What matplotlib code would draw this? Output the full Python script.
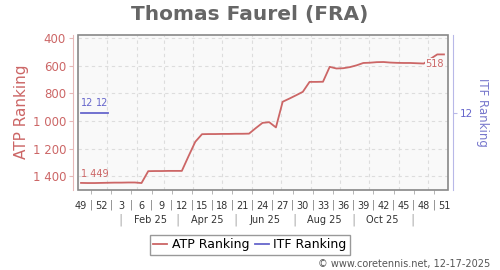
import datetime
import matplotlib
matplotlib.use("Agg")
from matplotlib import pyplot as plt
from matplotlib import transforms
from matplotlib.patches import Rectangle
from matplotlib.ticker import FuncFormatter

title = "Thomas Faurel (FRA)"

# ranking weeks as (iso year, iso week)
atp_weeks = [(2024, w) for w in range(49, 53)] + [(2025, w) for w in range(1, 52)]
atp_rank = [1449, 1450, 1450, 1449, 1448, 1447, 1447, 1446, 1446, 1450,
            1364, 1363, 1363, 1362, 1362, 1362, 1255, 1151, 1096, 1095,
            1095, 1094, 1094, 1093, 1093, 1092, 1052, 1014, 1009, 1047,
            861, 838, 814, 789, 717, 717, 716, 608, 620, 618,
            610, 597, 580, 578, 574, 573, 577, 579, 580, 580,
            582, 584, 550, 518, 518]

itf_weeks = [(2024, 49), (2024, 50), (2024, 51), (2024, 52), (2025, 1)]
itf_rank = [12, 12, 12, 12, 12]

week_ticks = [(2024, 49), (2024, 52)] + [(2025, w) for w in range(3, 52, 3)]
month_names = ["Feb 25", "Apr 25", "Jun 25", "Aug 25", "Oct 25"]
month_label_days = [datetime.date(2025, m, 15) for m in (2, 4, 6, 8, 10)]
month_sep_days = [datetime.date(2025, m, 15) for m in (1, 3, 5, 7, 9, 11)]
grid_days = [datetime.date(2025, m, 1) for m in range(1, 13)]

atp_color = "#cc6666"
itf_color = "#6666cc"

origin = datetime.date.fromisocalendar(2024, 49, 4)


def date_x(d):
    return (d - origin).days / 7


def week_x(yw):
    return date_x(datetime.date.fromisocalendar(yw[0], yw[1], 4))


def thousands(v, pos):
    return f"{int(v):,}".replace(",", " ")


fig = plt.figure(figsize=(5, 2.7), dpi=100)
ax = fig.add_axes([0.156, 0.296, 0.74, 0.574])
ax.set_facecolor("#f9f9f9")

xa = [week_x(w) for w in atp_weeks]
xi = [week_x(w) for w in itf_weeks]

atp_line, = ax.plot(xa, atp_rank, color=atp_color, lw=1.3, label="ATP Ranking", zorder=3)
ax.set_xlim(-0.45, 54.6)
ax.set_ylim(1501, 378)
ax.set_yticks([400, 600, 800, 1000, 1200, 1400])
ax.yaxis.set_major_formatter(FuncFormatter(thousands))
ax.grid(axis="y", linestyle=(0, (3, 3)), color="#dddddd", lw=0.8)
for d in grid_days:
    ax.axvline(date_x(d), linestyle=(0, (3, 3)), color="#dddddd", lw=0.8, zorder=1)

for s in ["top", "right", "bottom"]:
    ax.spines[s].set_visible(False)
ax.spines["left"].set_position(("outward", 3.6))
ax.spines["left"].set_color("#e6b8b8")
ax.tick_params(axis="y", labelcolor=atp_color, color="#e6b8b8", length=3,
               labelsize=8.5, pad=2)

# week ticks
wx = [week_x(w) for w in week_ticks]
ax.set_xticks(wx)
ax.set_xticklabels([str(w[1]) for w in week_ticks])
mids = [(a + b) / 2 for a, b in zip(wx[:-1], wx[1:])]
ax.set_xticks(mids, minor=True)
ax.tick_params(axis="x", which="major", length=0, pad=8, labelsize=7, labelcolor="#333333")
ax.tick_params(axis="x", which="minor", length=3, color="#aaaaaa")

tr = transforms.blended_transform_factory(ax.transData, ax.transAxes)
for m in mids:
    ax.text(m, -0.095, "|", transform=tr, ha="center", va="center",
            fontsize=7, color="#777777")
for d, name in zip(month_label_days, month_names):
    ax.text(date_x(d), -0.19, name, transform=tr, ha="center", va="center",
            fontsize=7, color="#333333")
for d in month_sep_days:
    ax.text(date_x(d), -0.19, "|", transform=tr, ha="center", va="center",
            fontsize=9, color="#aaaaaa")

ax.add_patch(Rectangle((0, 0), 1, 1, transform=ax.transAxes, fill=False,
                       edgecolor="#888888", lw=1.2, clip_on=False, zorder=5))

# data labels for the atp line
ax.annotate(thousands(atp_rank[0], 0), (xa[0], atp_rank[0]), xytext=(0, 3),
            textcoords="offset points", ha="left", va="bottom",
            fontsize=7, color=atp_color)
ax.annotate(thousands(atp_rank[-1], 0), (xa[-1], atp_rank[-1]), xytext=(0, -3),
            textcoords="offset points", ha="right", va="top",
            fontsize=7, color=atp_color, zorder=4,
            bbox=dict(facecolor="#f9f9f9", edgecolor="none", pad=0.5))

ax2 = ax.twinx()
itf_line, = ax2.plot(xi, itf_rank, color=itf_color, lw=1.3, label="ITF Ranking")
ax2.set_ylim(13, 11)
ax2.set_yticks([12])
for s in ["top", "left", "bottom"]:
    ax2.spines[s].set_visible(False)
ax2.spines["right"].set_position(("outward", 3.4))
ax2.spines["right"].set_color("#b8b8e8")
ax2.tick_params(axis="y", labelcolor=itf_color, color="#b8b8e8", length=3,
                labelsize=7.5, pad=2)
ax2.annotate(str(itf_rank[0]), (xi[0], itf_rank[0]), xytext=(0, 3),
             textcoords="offset points", ha="left", va="bottom",
             fontsize=7, color=itf_color)
ax2.annotate(str(itf_rank[-1]), (xi[-1], itf_rank[-1]), xytext=(0, 3),
             textcoords="offset points", ha="right", va="bottom",
             fontsize=7, color=itf_color)

fig.text(0.5, 0.948, title, ha="center", va="center", fontsize=14.5,
         fontweight="bold", color="#666666")
fig.text(0.044, 0.585, "ATP Ranking", rotation=90, ha="center", va="center",
         fontsize=11, color=atp_color)
fig.text(0.964, 0.585, "ITF Ranking", rotation=-90, ha="center", va="center",
         fontsize=8.5, color="#7777cc")

fig.legend([atp_line, itf_line], ["ATP Ranking", "ITF Ranking"], loc="center",
           bbox_to_anchor=(0.5, 0.093), ncol=2, fancybox=False, framealpha=1,
           edgecolor="#999999", fontsize=9, handlelength=1.1, columnspacing=0.5,
           handletextpad=0.35, borderpad=0.25, borderaxespad=0)

fig.text(0.98, 0.022, "\u00a9 www.coretennis.net, 12-17-2025", ha="right",
         va="center", fontsize=7, color="#555555")

fig.savefig("out.png", dpi=100)
